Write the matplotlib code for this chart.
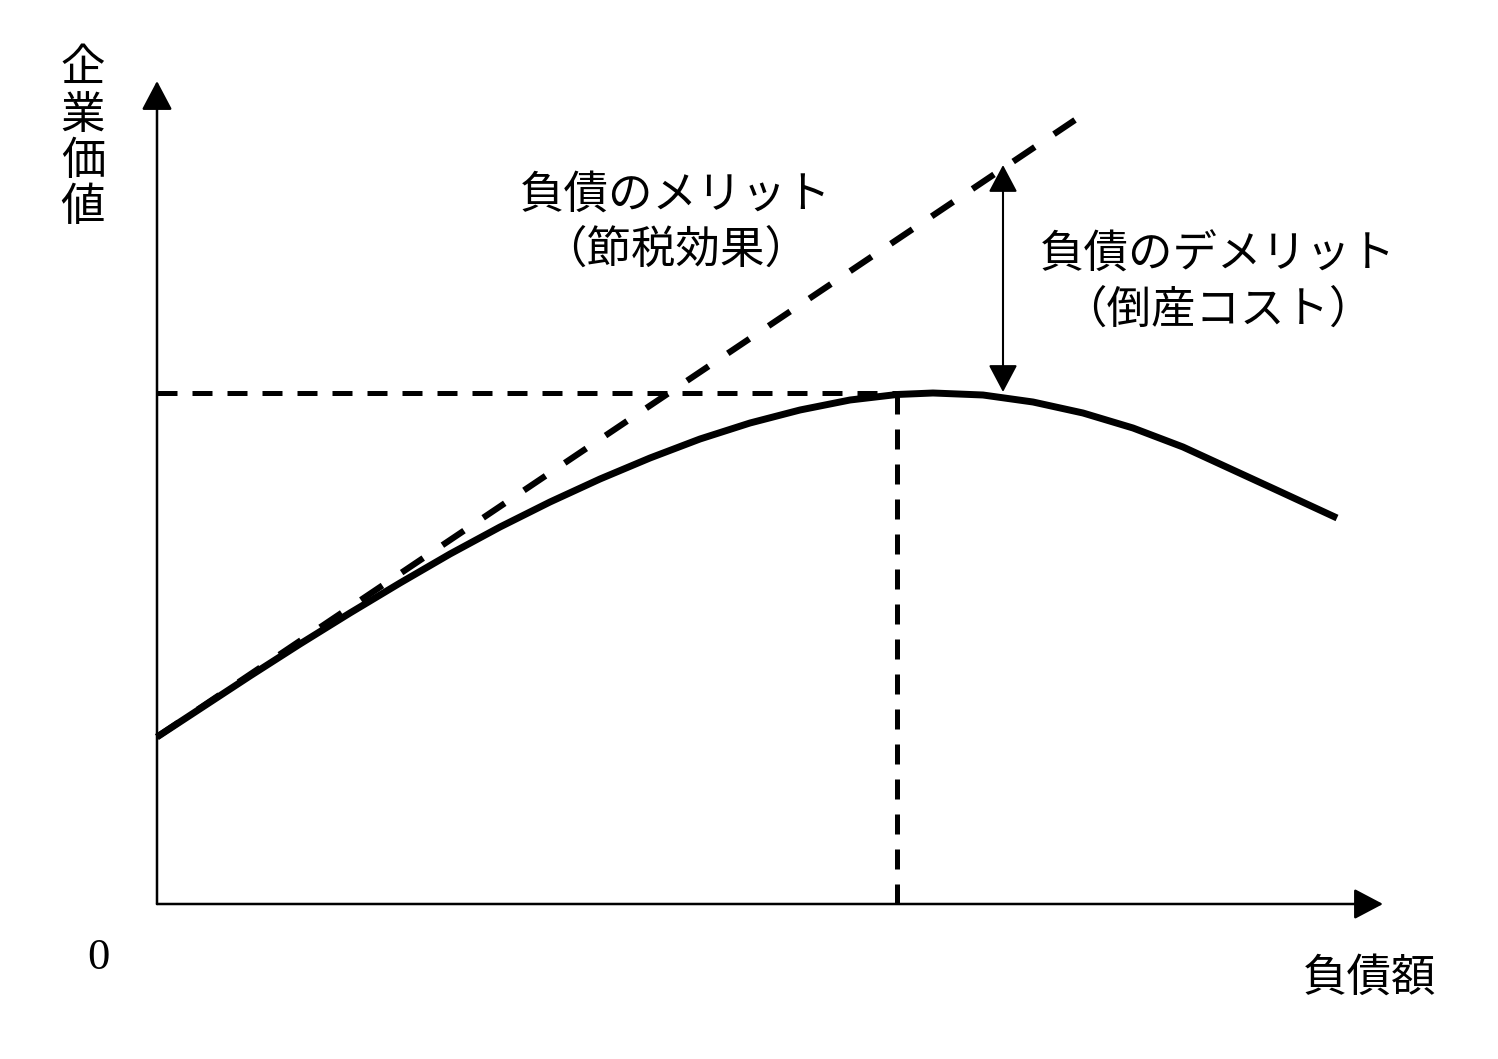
import matplotlib.pyplot as plt
from matplotlib.patches import FancyArrowPatch, ArrowStyle

plt.rcParams['font.family'] = ['Noto Sans CJK JP', 'DejaVu Sans']

# firm value curve (debt, value)
debt = [0, 93, 143, 193, 243, 293, 343, 393, 443, 493, 543, 593, 643,
        693, 740, 776, 826, 876, 926, 976, 1026, 1076, 1126, 1180]
value = [167, 228, 260, 291, 321, 350, 377, 402, 425, 446, 465, 481, 494,
         504, 509.5, 511, 509, 502, 491, 476, 457, 434, 411, 386]

# value without bankruptcy cost (straight line)
merit_x = [0, 918]
merit_y = [167, 784]

opt_debt = 740
opt_value = 511
gap_x = 846
gap_top = 739

ylabel = "企業価値"
xlabel = "負債額"
merit_text = ["負債のメリット", "（節税効果）"]
demerit_text = ["負債のデメリット", "（倒産コスト）"]

fig = plt.figure(figsize=(14.98, 10.59), dpi=100)
ax = fig.add_axes([0, 0, 1, 1])
ax.set_xlim(-157, 1341)
ax.set_ylim(-155, 904)
ax.axis('off')

# axes with arrow heads
axis_style = ArrowStyle('-|>', head_length=18, head_width=9.5)
ax.add_patch(FancyArrowPatch((0, 0), (0, 823), arrowstyle=axis_style,
                             mutation_scale=1, lw=1.8, color='black',
                             shrinkA=0, shrinkB=0))
ax.add_patch(FancyArrowPatch((0, 0), (1226, 0), arrowstyle=axis_style,
                             mutation_scale=1, lw=1.8, color='black',
                             shrinkA=0, shrinkB=0))

# dash pattern chosen so the line ends on a dash
ax.plot(merit_x, merit_y, color='black', lw=4.5, dashes=(4.16, 3.7))
ax.plot([0, opt_debt], [opt_value, opt_value], color='black', lw=3.6,
        dashes=(4, 3))
ax.plot([opt_debt, opt_debt], [0, opt_value], color='black', lw=3.6,
        dashes=(4, 3))
ax.plot(debt, value, color='black', lw=5, solid_joinstyle='round',
        solid_capstyle='butt')

ax.add_patch(FancyArrowPatch((gap_x, opt_value + 1), (gap_x, gap_top),
                             arrowstyle=ArrowStyle('<|-|>', head_length=17,
                                                   head_width=9),
                             mutation_scale=1, lw=1.5, color='black',
                             shrinkA=0, shrinkB=0))

fs = 32
for i, ch in enumerate(ylabel):
    ax.text(-74, 836 - i * 46.5, ch, fontsize=fs, ha='center', va='center')
ax.text(1213, -74, xlabel, fontsize=fs, ha='center', va='center')
ax.text(-59, -54, "0", fontsize=32, ha='center', va='center',
        family='Liberation Serif')

ax.text(519, 709, merit_text[0], fontsize=fs, ha='center', va='center')
ax.text(519, 654, merit_text[1], fontsize=fs, ha='center', va='center')
ax.text(1061, 649, demerit_text[0], fontsize=fs, ha='center', va='center')
ax.text(1061, 594, demerit_text[1], fontsize=fs, ha='center', va='center')

fig.savefig('out.png', dpi=100, facecolor='white')
